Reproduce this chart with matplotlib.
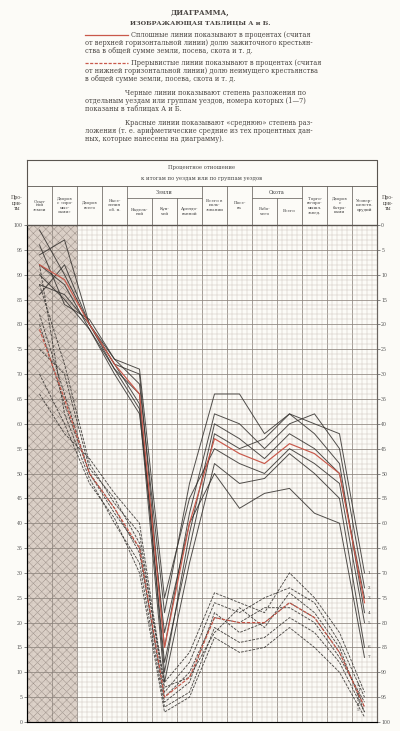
import numpy as np
import matplotlib
matplotlib.use("Agg")
import matplotlib.pyplot as plt
from matplotlib.lines import Line2D

plt.rcParams['font.family'] = ['DejaVu Serif', 'Liberation Serif']
plt.rcParams['hatch.linewidth'] = 0.4

# column headers (14 columns)
columns = [
    "Сдан-\nной\nземли",
    "Дворов\nс «про-\nмыс-\nлами»",
    "Дворов\nвсего",
    "Насе-\nления\nоб. п.",
    "Надель-\nной",
    "Куп-\nчей",
    "Арендо-\nванной",
    "Всего в\nполь-\nзовании",
    "Посе-\nва",
    "Рабо-\nчего",
    "Всего",
    "Торго-\nво-про-\nмышл.\nзавед.",
    "Дворов\nс\nбатра-\nками",
    "Усовер-\nшенств.\nорудий",
]
groups = [("Земли", 4, 6), ("Скота", 9, 10)]

# share of the well-to-do peasantry, % counted from the top line (solid lines)
rich = [
    [1, 10, 20, 27, 32, 78, 52, 34, 34, 42, 38, 40, 42, 70],
    [6, 3, 20, 28, 30, 85, 58, 38, 40, 45, 40, 38, 45, 73],
    [8, 12, 21, 29, 34, 90, 62, 40, 43, 47, 42, 45, 50, 75],
    [12, 14, 20, 28, 36, 88, 65, 42, 45, 43, 38, 42, 48, 78],
    [4, 16, 19, 27, 29, 75, 55, 45, 48, 50, 45, 48, 52, 80],
    [14, 8, 20, 29, 37, 92, 68, 48, 52, 51, 46, 50, 55, 85],
    [10, 15, 21, 30, 38, 82, 60, 50, 57, 54, 53, 58, 60, 87],
]
rich_avg = [8, 11, 20, 28, 34, 85, 60, 43, 46, 48, 44, 46, 50, 76]

# share of the poor peasantry, % counted from the bottom line (dashed lines)
poor = [
    [88, 72, 52, 44, 38, 6, 12, 24, 22, 25, 27, 24, 16, 5],
    [82, 66, 50, 42, 35, 4, 8, 22, 18, 20, 24, 21, 14, 3],
    [92, 62, 49, 40, 32, 3, 6, 19, 16, 17, 21, 18, 12, 2],
    [75, 70, 51, 45, 36, 8, 14, 26, 24, 22, 30, 25, 18, 6],
    [70, 60, 48, 41, 30, 2, 5, 17, 14, 15, 19, 15, 10, 1],
    [80, 64, 50, 43, 34, 5, 10, 21, 20, 23, 23, 20, 13, 4],
    [66, 58, 53, 46, 40, 7, 9, 18, 23, 19, 26, 22, 15, 2],
]
poor_avg = [79, 65, 50, 43, 35, 5, 9, 21, 20, 20, 24, 21, 14, 3]

x = np.arange(len(columns))
paper = '#fcfbf7'
ink = '#34312e'
red = '#c9584a'

fig = plt.figure(figsize=(4, 7.31), dpi=100, facecolor=paper)

# ---- text above the chart
def ft(px, py, s, **kw):
    fig.text(px / 400, 1 - py / 731, s, va='center', color='#4a4643', **kw)

ft(200, 13, "ДИАГРАММА,", ha='center', fontsize=5.0, fontweight='bold')
ft(200, 24, "ИЗОБРАЖАЮЩАЯ ТАБЛИЦЫ А и Б.", ha='center', fontsize=4.6, fontweight='bold')
paras = [
    ["Сплошные линии показывают в процентах (считая",
     "от верхней горизонтальной линии) долю зажиточного крестьян-",
     "ства в общей сумме земли, посева, скота и т. д."],
    ["Прерывистые линии показывают в процентах (считая",
     "от нижней горизонтальной линии) долю неимущего крестьянства",
     "в общей сумме земли, посева, скота и т. д."],
    ["Черные линии показывают степень разложения по",
     "отдельным уездам или группам уездов, номера которых (1—7)",
     "показаны в таблицах А и Б."],
    ["Красные линии показывают «среднюю» степень раз-",
     "ложения (т. е. арифметические средние из тех процентных дан-",
     "ных, которые нанесены на диаграмму)."],
]
tops = [35, 63, 93, 123]
starts = [131, 131, 125, 125]
for top, x0, lines in zip(tops, starts, paras):
    for k, s in enumerate(lines):
        ft(x0 if k == 0 else 85, top + k * 7.8, s, ha='left', fontsize=4.75)
fig.add_artist(Line2D([85 / 400, 128 / 400], [1 - 35 / 731] * 2, color=red, lw=0.9))
fig.add_artist(Line2D([85 / 400, 128 / 400], [1 - 63 / 731] * 2, color=red, lw=0.9,
                      ls=(0, (2.5, 1.2))))

# ---- chart
ax = fig.add_axes([27 / 400, 9 / 731, 350 / 400, 497 / 731])
ax.set_facecolor(paper)
ax.set_xlim(-0.5, len(columns) - 0.5)
ax.set_ylim(0, 100)
ax.set_axisbelow(True)
ax.set_xticks(np.arange(-0.5, len(columns), 1))
ax.set_xticks(np.arange(-0.5, len(columns) - 0.4, 0.2), minor=True)
ax.set_yticks(np.arange(0, 101, 5))
ax.set_yticks(np.arange(0, 101, 1), minor=True)
ax.grid(which='minor', color='#cdc3bb', lw=0.35)
ax.grid(which='major', color='#8d847d', lw=0.55)
ax.tick_params(axis='x', which='both', length=0, labelbottom=False)
ax.tick_params(axis='y', which='major', labelsize=3.4, length=2, width=0.5, pad=1,
               colors='#555')
ax.tick_params(axis='y', which='minor', length=0)
ax.axvspan(-0.5, 1.5, facecolor='#ddd2c9', edgecolor='#9c9088', hatch='xxxx',
           lw=0, zorder=0.3)
for sp in ax.spines.values():
    sp.set_color('#6b6560')
    sp.set_linewidth(0.8)

ax2 = ax.twinx()
ax2.set_ylim(100, 0)
ax2.set_yticks(np.arange(0, 101, 5))
ax2.tick_params(axis='y', labelsize=3.4, length=2, width=0.5, pad=1, colors='#555')
ax2.spines['right'].set_color('#6b6560')

for i, r in enumerate(rich):
    ax2.plot(x, r, color=ink, lw=0.7, alpha=0.85)
    ax2.text(x[-1] + 0.12, r[-1], str(i + 1), fontsize=3, color=ink, va='center')
for i, p in enumerate(poor):
    ax.plot(x, p, color=ink, lw=0.65, ls=(0, (3, 1.3)), alpha=0.85)
    ax.text(x[-1] - 0.3, p[-1] + 1.5, str(i + 1), fontsize=3, color=ink, va='center')
ax2.plot(x, rich_avg, color=red, lw=0.85)
ax.plot(x, poor_avg, color=red, lw=0.85, ls=(0, (3, 1.3)))

# ---- table head
hax = fig.add_axes([27 / 400, 1 - 225 / 731, 350 / 400, 65 / 731])
hax.set_xlim(-0.5, len(columns) - 0.5)
hax.set_ylim(225, 160)
hax.axis('off')
lc = '#5a5550'
hax.plot([-0.5, 13.5, 13.5, -0.5, -0.5], [160, 160, 225, 225, 160], color=lc, lw=0.8,
         clip_on=False)
hax.hlines(186, -0.5, 13.5, color=lc, lw=0.6)
in_group = set()
for name, a, b in groups:
    hax.hlines(198, a - 0.5, b + 0.5, color=lc, lw=0.5)
    hax.text((a + b) / 2, 192, name, ha='center', va='center', fontsize=3.6, color='#444')
    in_group.update(range(a + 1, b + 1))
for j in range(1, len(columns)):
    hax.vlines(j - 0.5, 198 if j in in_group else 186, 225, color=lc, lw=0.5)
for j, lab in enumerate(columns):
    grouped = any(a <= j <= b for _, a, b in groups)
    hax.text(j, 211.5 if grouped else 205.5, lab, ha='center', va='center',
             fontsize=3.0, linespacing=1.05, color='#444')
hax.text(6.5, 168, "Процентное отношение", ha='center', va='center', fontsize=3.8,
         color='#444')
hax.text(6.5, 178.5, "к итогам по уездам или по группам уездов", ha='center',
         va='center', fontsize=3.8, color='#444')
ft(17, 203, "Про-\nцен-\nты", ha='center', fontsize=3.4, linespacing=1.1)
ft(388, 203, "Про-\nцен-\nты", ha='center', fontsize=3.4, linespacing=1.1)

fig.savefig("out.png", dpi=100, facecolor=paper)
